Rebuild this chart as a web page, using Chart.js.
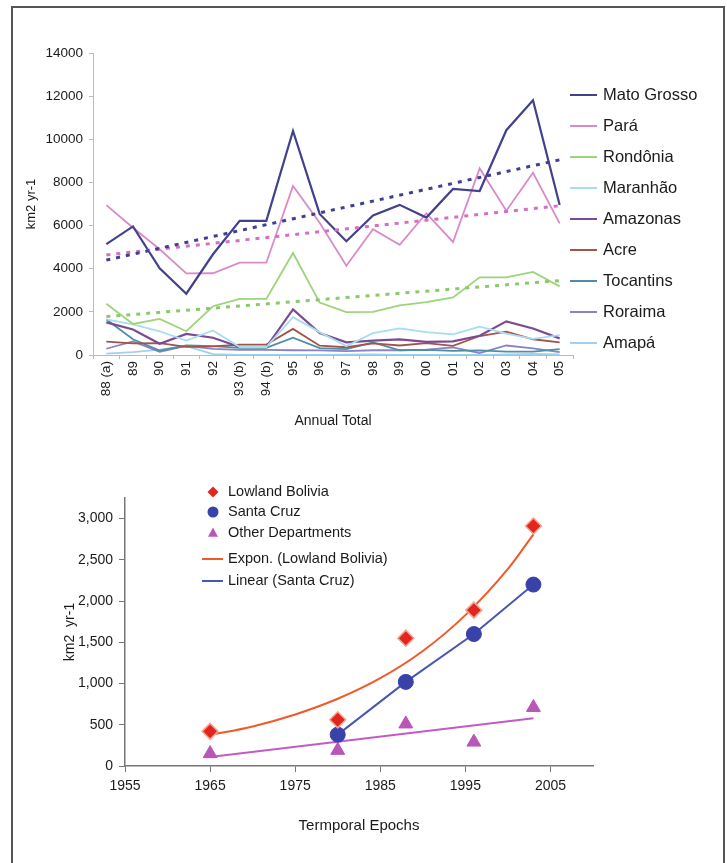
<!DOCTYPE html>
<html>
<head>
<meta charset="utf-8">
<script src="https://cdn.jsdelivr.net/npm/chart.js@4.4.0/dist/chart.umd.min.js"></script>
<style>
  html, body { margin: 0; padding: 0; background: #fff; width: 727px; height: 863px; overflow: hidden; }
  #frame { position: absolute; left: 11px; top: 6px; width: 710px; height: 900px; border: 2px solid #555; border-bottom: none; }
  #topChart { position: absolute; left: 0; top: 0; }
  #bottomChart { position: absolute; left: 0; top: 440px; }
</style>
</head>
<body>
<div id="frame"></div>
<canvas id="topChart" width="727" height="440"></canvas>
<canvas id="bottomChart" width="727" height="423"></canvas>
<script>
// ---- top chart: annual deforestation per state ----
const years = ['88 (a)', '89', '90', '91', '92', '93 (b)', '94 (b)', '95', '96', '97', '98', '99', '00', '01', '02', '03', '04', '05'];
const matoGrosso = [5140, 5960, 4020, 2840, 4670, 6220, 6220, 10390, 6540, 5270, 6470, 6960, 6370, 7700, 7600, 10420, 11810, 6950];
const para       = [6950, 5900, 4900, 3780, 3790, 4280, 4280, 7840, 6130, 4140, 5830, 5110, 6570, 5240, 8650, 6690, 8450, 6100];
const rondonia   = [2380, 1440, 1670, 1100, 2260, 2600, 2600, 4730, 2430, 1990, 2000, 2300, 2450, 2670, 3600, 3600, 3850, 3180];
const maranhao   = [1650, 1420, 1100, 670, 1140, 370, 370, 1750, 1060, 410, 1010, 1230, 1060, 960, 1310, 990, 750, 920];
const amazonas   = [1510, 1180, 520, 980, 800, 370, 370, 2110, 1020, 590, 670, 720, 610, 630, 890, 1560, 1230, 770];
const acre       = [620, 540, 550, 380, 400, 480, 480, 1210, 430, 360, 540, 440, 550, 420, 880, 1080, 730, 590];
const tocantins  = [1650, 730, 200, 440, 410, 330, 330, 800, 320, 270, 580, 220, 240, 190, 210, 160, 160, 270];
const roraima    = [290, 630, 150, 420, 280, 240, 240, 220, 210, 180, 220, 220, 250, 350, 90, 440, 310, 130];
const amapa      = [60, 130, 250, 410, 40, 0, 0, 10, 0, 20, 30, 0, 0, 10, 0, 30, 50, 30];
// dotted trend lines: start and end values
const trendMatoGrosso = [4400, 9050];
const trendPara = [4640, 6920];
const trendRondonia = [1780, 3450];
const yTicksTop = [0, 2000, 4000, 6000, 8000, 10000, 12000, 14000];

// ---- bottom chart: Bolivia ----
const lowlandYears = [1965, 1980, 1988, 1996, 2003];
const lowlandValues = [420, 560, 1550, 1890, 2910];
const santaCruzYears = [1980, 1988, 1996, 2003];
const santaCruzValues = [380, 1020, 1600, 2200];
const otherYears = [1965, 1980, 1988, 1996, 2003];
const otherValues = [150, 190, 510, 290, 710];
const exponYears = [1965, 1970, 1975, 1980, 1985, 1990, 1995, 2000, 2003];
const exponValues = [375, 480, 625, 815, 1065, 1395, 1830, 2390, 2810];
const otherTrendYears = [1965, 2003];
const otherTrendValues = [110, 580];
const xTicksBottom = [1955, 1965, 1975, 1985, 1995, 2005];
const yTicksBottom = [0, 500, 1000, 1500, 2000, 2500, 3000];

const FONT = '"Liberation Sans", Arial, sans-serif';
Chart.defaults.font.family = FONT;
Chart.defaults.color = '#1a1a1a';

function trendSeries(pair) {
    const arr = years.map(() => null);
    arr[0] = pair[0];
    arr[arr.length - 1] = pair[1];
    return arr;
}

function pairs(xs, ys) {
    return xs.map((x, i) => ({ x: x, y: ys[i] }));
}

function drawMarker(ctx, style, x, y, r) {
    ctx.beginPath();
    if (style === 'rectRot') {
        ctx.moveTo(x, y - r); ctx.lineTo(x + r, y); ctx.lineTo(x, y + r); ctx.lineTo(x - r, y);
        ctx.closePath();
    } else if (style === 'triangle') {
        ctx.moveTo(x, y - r); ctx.lineTo(x + r * 0.9, y + r * 0.7); ctx.lineTo(x - r * 0.9, y + r * 0.7);
        ctx.closePath();
    } else {
        ctx.arc(x, y, r, 0, Math.PI * 2);
    }
    ctx.fill();
}

// legend drawn at fixed spot, text comes from dataset labels
const sideLegend = {
    id: 'sideLegend',
    afterDraw(chart, args, opts) {
        const ctx = chart.ctx;
        ctx.save();
        ctx.font = opts.font;
        ctx.textBaseline = 'middle';
        chart.data.datasets.forEach((ds) => {
            if (ds.legendRow === undefined) return;
            const y = opts.rows[ds.legendRow];
            if (ds.showLine === false) {
                ctx.fillStyle = ds.backgroundColor;
                drawMarker(ctx, ds.pointStyle, opts.markerX, y, opts.markerR);
            } else {
                ctx.strokeStyle = ds.borderColor;
                ctx.lineWidth = opts.lineW;
                ctx.beginPath();
                ctx.moveTo(opts.lineX0, y);
                ctx.lineTo(opts.lineX1, y);
                ctx.stroke();
            }
            ctx.fillStyle = '#1a1a1a';
            ctx.fillText(ds.label, opts.textX, y);
        });
        ctx.restore();
    }
};

function stateLine(label, data, color, row, width) {
    return {
        label: label, data: data, borderColor: color, backgroundColor: color,
        borderWidth: width || 1.8, pointRadius: 0, tension: 0, legendRow: row
    };
}

function trendLine(data, color) {
    return {
        label: 'trend', data: trendSeries(data), borderColor: color, backgroundColor: color,
        borderWidth: 3, borderDash: [4, 6], pointRadius: 0, spanGaps: true
    };
}

new Chart(document.getElementById('topChart'), {
    type: 'line',
    data: {
        labels: years,
        datasets: [
            trendLine(trendMatoGrosso, '#3f3f94'),
            trendLine(trendPara, '#d46fc4'),
            trendLine(trendRondonia, '#8cc96a'),
            stateLine('Mato Grosso', matoGrosso, '#42428c', 0, 2.2),
            stateLine('Pará', para, '#d98bc8', 1),
            stateLine('Rondônia', rondonia, '#9cd47a', 2),
            stateLine('Maranhão', maranhao, '#a8dcf0', 3),
            stateLine('Amazonas', amazonas, '#7c4a90', 4, 2.2),
            stateLine('Acre', acre, '#a25448', 5),
            stateLine('Tocantins', tocantins, '#4f8ea8', 6),
            stateLine('Roraima', roraima, '#8a82c6', 7),
            stateLine('Amapá', amapa, '#9fd2ec', 8)
        ]
    },
    options: {
        responsive: false,
        animation: false,
        layout: { padding: { left: 20, right: 154, top: 53, bottom: 6 } },
        plugins: {
            legend: { display: false },
            tooltip: { enabled: false },
            sideLegend: {
                font: '16.5px ' + FONT,
                rows: [95, 126, 157, 188, 219, 250, 281, 312, 343],
                lineX0: 570, lineX1: 597, lineW: 2, textX: 603, markerX: 583, markerR: 5
            }
        },
        scales: {
            x: {
                offset: true,
                grid: { display: true, drawOnChartArea: false, offset: true, tickLength: 4, color: '#bbb' },
                border: { color: '#bbb' },
                ticks: { autoSkip: false, minRotation: 90, maxRotation: 90, font: { size: 13.5 }, padding: 2 },
                title: { display: true, text: 'Annual Total', font: { size: 14 }, padding: { top: 4, bottom: 4 } },
                afterFit: (s) => { s.height = 79; }
            },
            y: {
                min: 0, max: 14000,
                afterBuildTicks: (s) => { s.ticks = yTicksTop.map((v) => ({ value: v })); },
                grid: { display: true, drawOnChartArea: false, tickLength: 4, color: '#bbb' },
                border: { color: '#bbb' },
                ticks: { font: { size: 13.5 }, padding: 6, callback: (v) => String(v) },
                title: { display: true, text: 'km2 yr-1', font: { size: 13 }, padding: { top: 4, bottom: 4 } },
                afterFit: (s) => { s.width = 73; }
            }
        }
    },
    plugins: [sideLegend]
});

new Chart(document.getElementById('bottomChart'), {
    type: 'scatter',
    data: {
        datasets: [
            {
                label: 'Lowland Bolivia', data: pairs(lowlandYears, lowlandValues), showLine: false,
                pointStyle: 'rectRot', pointRadius: 8, backgroundColor: '#e3261c', borderColor: '#f6a594',
                borderWidth: 1.5, order: 1, legendRow: 0
            },
            {
                label: 'Santa Cruz', data: pairs(santaCruzYears, santaCruzValues), showLine: false,
                pointStyle: 'circle', pointRadius: 7.5, backgroundColor: '#3842a8', borderColor: '#3842a8',
                borderWidth: 1, order: 1, legendRow: 1
            },
            {
                label: 'Other Departments', data: pairs(otherYears, otherValues), showLine: false,
                pointStyle: 'triangle', pointRadius: 8, backgroundColor: '#b857b8', borderColor: '#b857b8',
                borderWidth: 1, order: 1, legendRow: 2
            },
            {
                label: 'Expon. (Lowland Bolivia)', data: pairs(exponYears, exponValues), showLine: true,
                cubicInterpolationMode: 'monotone', borderColor: '#f05a28', backgroundColor: '#f05a28',
                borderWidth: 2, pointRadius: 0, order: 2, legendRow: 3
            },
            {
                label: 'Linear (Santa Cruz)', data: pairs(santaCruzYears, santaCruzValues), showLine: true,
                borderColor: '#4957b3', backgroundColor: '#4957b3', borderWidth: 2, pointRadius: 0,
                order: 2, legendRow: 4
            },
            {
                label: 'trend', data: pairs(otherTrendYears, otherTrendValues), showLine: true,
                borderColor: '#c35bc4', backgroundColor: '#c35bc4', borderWidth: 2, pointRadius: 0, order: 2
            }
        ]
    },
    options: {
        responsive: false,
        animation: false,
        layout: { padding: { left: 58, right: 134, top: 58, bottom: 24 } },
        plugins: {
            legend: { display: false },
            tooltip: { enabled: false },
            sideLegend: {
                font: '14.5px ' + FONT,
                rows: [52, 72, 93, 119, 141],
                lineX0: 202, lineX1: 223, lineW: 2, textX: 228, markerX: 213, markerR: 5.5
            }
        },
        scales: {
            x: {
                type: 'linear', min: 1955, max: 2010,
                afterBuildTicks: (s) => { s.ticks = xTicksBottom.map((v) => ({ value: v })); },
                grid: { display: true, drawOnChartArea: false, tickLength: 6, color: '#777' },
                border: { color: '#777', width: 1.5 },
                ticks: { font: { size: 14 }, padding: 6, callback: (v) => String(v) },
                title: { display: true, text: 'Termporal Epochs', font: { size: 15 }, padding: { top: 4, bottom: 4 } },
                afterFit: (s) => { s.height = 73; }
            },
            y: {
                min: 0, max: 3250,
                afterBuildTicks: (s) => { s.ticks = yTicksBottom.map((v) => ({ value: v })); },
                grid: { display: true, drawOnChartArea: false, tickLength: 6, color: '#777' },
                border: { color: '#777', width: 1.5 },
                ticks: { font: { size: 14 }, padding: 6, callback: (v) => v.toLocaleString('en-US') },
                title: { display: true, text: 'km2  yr-1', font: { size: 14 }, padding: { top: 4, bottom: 4 } },
                afterFit: (s) => { s.width = 67; }
            }
        }
    },
    plugins: [sideLegend]
});
</script>
</body>
</html>
